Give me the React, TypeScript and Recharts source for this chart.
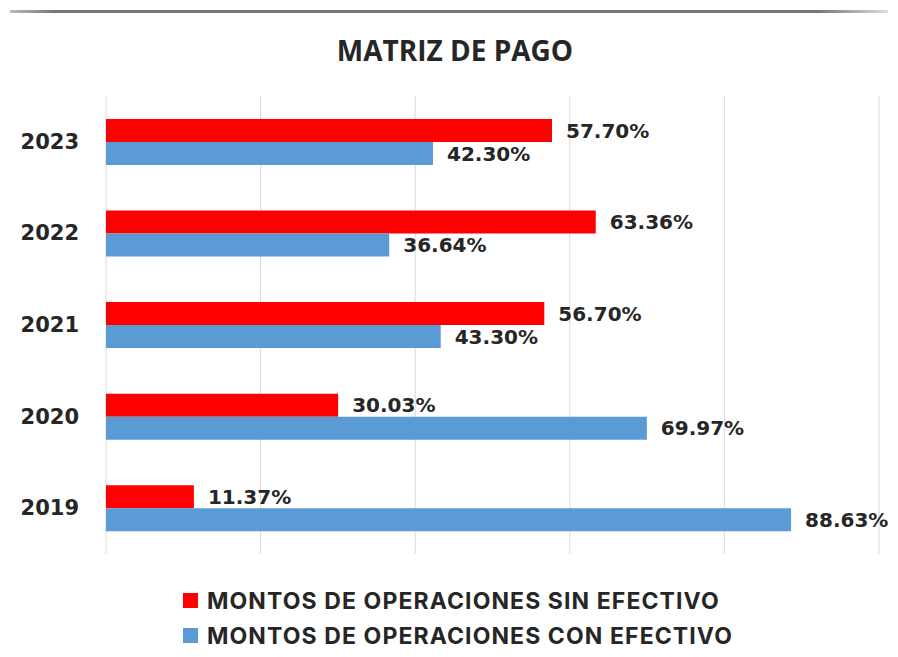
import React from 'react';
import { BarChart, Bar, XAxis, YAxis, CartesianGrid, LabelList, Legend } from 'recharts';

const years = ['2023', '2022', '2021', '2020', '2019'];
const sinEfectivo = [57.7, 63.36, 56.7, 30.03, 11.37];
const conEfectivo = [42.3, 36.64, 43.3, 69.97, 88.63];
const xTicks = [0, 20, 40, 60, 80, 100];
const seriesOrder = ['sin', 'con'];

const data = years.map((year, i) => ({
  year,
  sin: sinEfectivo[i],
  con: conEfectivo[i],
}));

const RED = '#FF0000';
const BLUE = '#5B9BD5';
const TEXT = '#262626';

const pct = (v: any) => `${Number(v).toFixed(2)}%`;

const YearTick = (props: any) => {
  const { x, y, payload } = props;
  return (
    <text
      x={x - 19}
      y={y}
      dy={7}
      textAnchor="end"
      fontFamily="DejaVu Sans"
      fontWeight="bold"
      fontSize={21}
      fill={TEXT}
    >
      {payload.value}
    </text>
  );
};

const LegendBox = (props: any) => {
  const items = [...(props.payload || [])].sort(
    (a: any, b: any) => seriesOrder.indexOf(a.dataKey) - seriesOrder.indexOf(b.dataKey)
  );
  return (
    <div>
      {items.map((entry: any, index: number) => (
        <div
          key={index}
          style={{ display: 'flex', alignItems: 'center', height: 35 }}
        >
          <div style={{ width: 15, height: 15, backgroundColor: entry.color, marginRight: 9 }} />
          <span
            style={{
              fontFamily: 'Inter',
              fontWeight: 700,
              fontSize: 23,
              letterSpacing: 1.1,
              color: TEXT,
              whiteSpace: 'nowrap',
            }}
          >
            {entry.value}
          </span>
        </div>
      ))}
    </div>
  );
};

const App = () => {
  return (
    <div style={{ position: 'absolute', left: 0, top: 0, width: 898, height: 657, background: '#fff' }}>
      {/* top rule */}
      <div
        style={{
          position: 'absolute',
          left: 10,
          top: 10,
          width: 878,
          height: 3,
          background: 'linear-gradient(to right, #bbb 0%, #777 5%, #777 92%, #ddd 100%)',
        }}
      />
      <div
        style={{
          position: 'absolute',
          left: 0,
          width: 910,
          top: 31,
          textAlign: 'center',
          fontFamily: 'Open Sans',
          fontWeight: 700,
          fontSize: 28,
          color: TEXT,
        }}
      >
        MATRIZ DE PAGO
      </div>
      <BarChart
        width={898}
        height={657}
        data={data}
        layout="vertical"
        margin={{ top: 96, right: 19, bottom: 33, left: 0 }}
        barCategoryGap="25%"
        barGap={0}
      >
        <CartesianGrid horizontal={false} stroke="#d9d9d9" />
        <XAxis type="number" domain={[0, 100]} ticks={xTicks} hide />
        <YAxis
          type="category"
          dataKey="year"
          width={106}
          axisLine={false}
          tickLine={false}
          tick={<YearTick />}
        />
        <Legend
          layout="vertical"
          content={<LegendBox />}
          wrapperStyle={{ position: 'absolute', left: 183, top: 583, width: 710 }}
        />
        <Bar
          dataKey="sin"
          name="MONTOS DE OPERACIONES SIN EFECTIVO"
          fill={RED}
          isAnimationActive={false}
        >
          <LabelList
            dataKey="sin"
            position="right"
            offset={14}
            formatter={pct}
            fill={TEXT}
            fontFamily="DejaVu Sans"
            fontWeight="bold"
            fontSize={20}
          />
        </Bar>
        <Bar
          dataKey="con"
          name="MONTOS DE OPERACIONES CON EFECTIVO"
          fill={BLUE}
          isAnimationActive={false}
        >
          <LabelList
            dataKey="con"
            position="right"
            offset={14}
            formatter={pct}
            fill={TEXT}
            fontFamily="DejaVu Sans"
            fontWeight="bold"
            fontSize={20}
          />
        </Bar>
      </BarChart>
    </div>
  );
};

export default App;
